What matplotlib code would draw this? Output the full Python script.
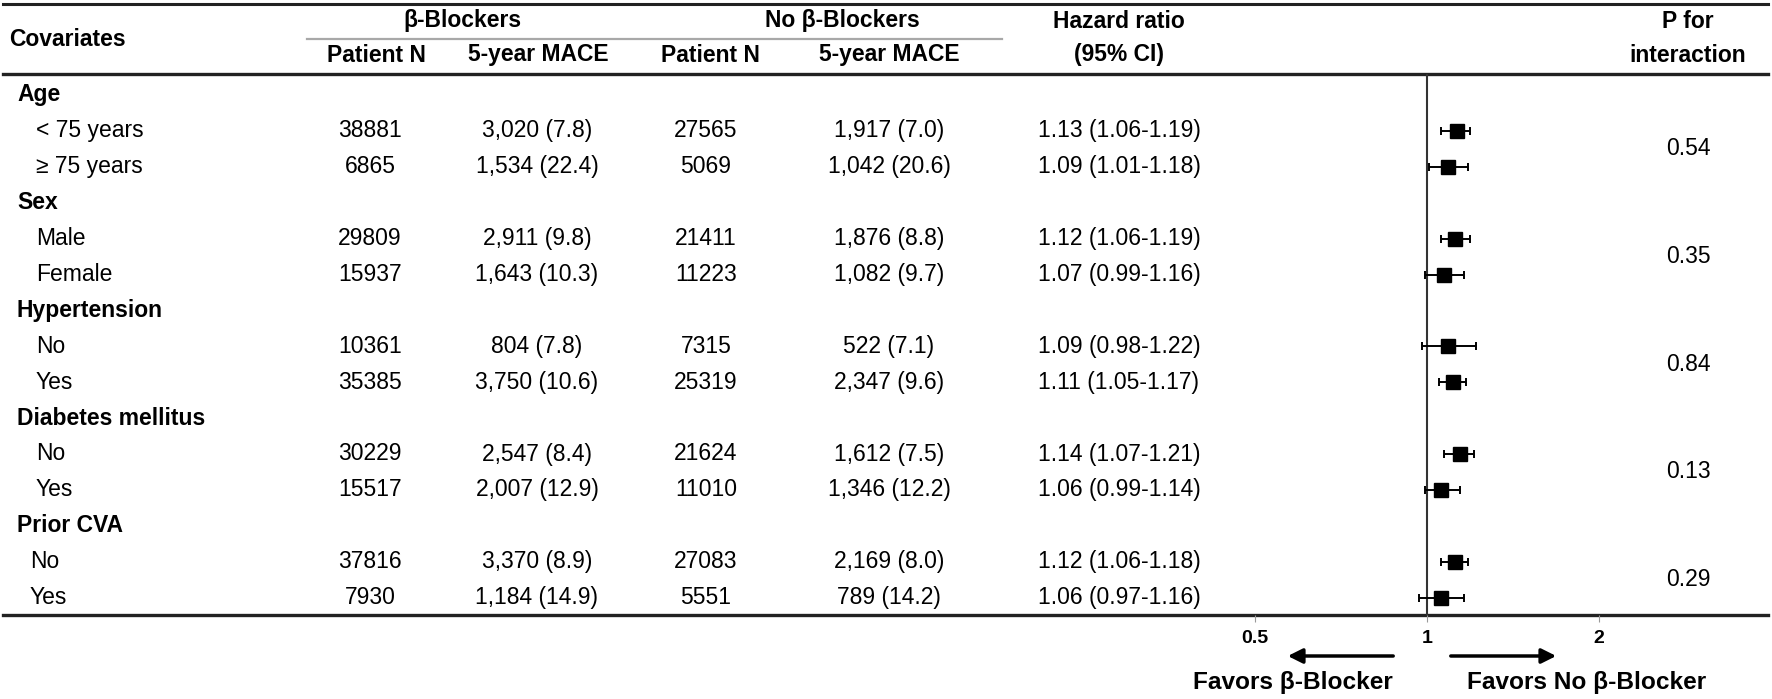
import matplotlib
matplotlib.use('Agg')
from matplotlib import pyplot as plt
import numpy as np

plt.rcParams['font.family'] = ['Liberation Sans', 'DejaVu Sans']

# --- data ---
groups     = ['Age', 'Sex', 'Hypertension', 'Diabetes mellitus', 'Prior CVA']
subgroups  = [['< 75 years', '≥ 75 years'], ['Male', 'Female'], ['No', 'Yes'],
              ['No', 'Yes'], ['No', 'Yes']]
bb_n       = [38881, 6865, 29809, 15937, 10361, 35385, 30229, 15517, 37816, 7930]
bb_events  = [3020, 1534, 2911, 1643, 804, 3750, 2547, 2007, 3370, 1184]
bb_pct     = [7.8, 22.4, 9.8, 10.3, 7.8, 10.6, 8.4, 12.9, 8.9, 14.9]
nobb_n     = [27565, 5069, 21411, 11223, 7315, 25319, 21624, 11010, 27083, 5551]
nobb_events = [1917, 1042, 1876, 1082, 522, 2347, 1612, 1346, 2169, 789]
nobb_pct   = [7.0, 20.6, 8.8, 9.7, 7.1, 9.6, 7.5, 12.2, 8.0, 14.2]
hr         = [1.13, 1.09, 1.12, 1.07, 1.09, 1.11, 1.14, 1.06, 1.12, 1.06]
hr_lo      = [1.06, 1.01, 1.06, 0.99, 0.98, 1.05, 1.07, 0.99, 1.06, 0.97]
hr_hi      = [1.19, 1.18, 1.19, 1.16, 1.22, 1.17, 1.21, 1.14, 1.18, 1.16]
p_int      = ['0.54', '0.35', '0.84', '0.13', '0.29']
x_ticks    = [0.5, 1, 2]

# --- layout (pixels) ---
W, H = 1772, 699
y0, dy = 95, 35.9          # first row, row step
top_y, head_y, bot_y = 4, 74, 615
x_one, px_dbl = 1427, 172  # where HR=1 sits, px per doubling
fl, fr = 1200, 1660        # forest axes extent
FS = 16.5

fig = plt.figure(figsize=(W / 100, H / 100), dpi=100)
ax = fig.add_axes([0, 0, 1, 1])
ax.set_xlim(0, W)
ax.set_ylim(H, 0)
ax.axis('off')

# table rules
ax.plot([3, 1768], [top_y, top_y], color='#222222', lw=2.2)
ax.plot([3, 1768], [head_y, head_y], color='#222222', lw=2.4)
ax.plot([3, 1768], [bot_y, bot_y], color='#222222', lw=2.4)
ax.plot([307, 1002], [39, 39], color='#a8a8a8', lw=1.6)

# header
hb = dict(fontsize=FS, weight='bold', ha='center', va='center')
ax.text(9, 39, 'Covariates', fontsize=FS, weight='bold', ha='left', va='center')
ax.text(462, 21, 'β-Blockers', **hb)
ax.text(842, 21, 'No β-Blockers', **hb)
ax.text(1119, 21, 'Hazard ratio', **hb)
ax.text(1688, 21, 'P for', **hb)
ax.text(376, 55, 'Patient N', **hb)
ax.text(538, 55, '5-year MACE', **hb)
ax.text(710, 55, 'Patient N', **hb)
ax.text(889, 55, '5-year MACE', **hb)
ax.text(1119, 55, '(95% CI)', **hb)
ax.text(1688, 55, 'interaction', **hb)

# body
row_y = []
k = 0
r = 0
for g, name in enumerate(groups):
    ax.text(17, y0 + r * dy, name, fontsize=FS, weight='bold', va='center')
    r += 1
    ind = 30 if g == len(groups) - 1 else 36
    pair = []
    for s in subgroups[g]:
        y = y0 + r * dy
        ax.text(ind, y, s, fontsize=FS, va='center')
        ax.text(370, y, str(bb_n[k]), fontsize=FS, va='center', ha='center')
        ax.text(537, y, f'{bb_events[k]:,} ({bb_pct[k]:.1f})', fontsize=FS, va='center', ha='center')
        ax.text(706, y, str(nobb_n[k]), fontsize=FS, va='center', ha='center')
        ax.text(889, y, f'{nobb_events[k]:,} ({nobb_pct[k]:.1f})', fontsize=FS, va='center', ha='center')
        ax.text(1119, y, f'{hr[k]:.2f} ({hr_lo[k]:.2f}-{hr_hi[k]:.2f})', fontsize=FS, va='center', ha='center')
        row_y.append(r)
        pair.append(y)
        k += 1
        r += 1
    ax.text(1688, np.mean(pair), p_int[g], fontsize=FS, va='center', ha='center')

# forest plot
fx = fig.add_axes([fl / W, (H - bot_y) / H, (fr - fl) / W, (bot_y - head_y) / H])
fx.patch.set_alpha(0)
fx.set_xscale('log', base=2)
fx.set_xlim(2 ** ((fl - x_one) / px_dbl), 2 ** ((fr - x_one) / px_dbl))
fx.set_ylim((bot_y - y0) / dy, (head_y - y0) / dy)
for sp in fx.spines.values():
    sp.set_visible(False)
fx.axvline(1, color='#333333', lw=1.5)
hr_a = np.array(hr)
err = [hr_a - np.array(hr_lo), np.array(hr_hi) - hr_a]
fx.errorbar(hr, row_y, xerr=err, fmt='none', ecolor='black', elinewidth=1.4,
            capsize=3, capthick=1.4)
fx.plot(hr, row_y, 's', color='black', ms=10)
fx.set_xticks(x_ticks)
fx.set_xticklabels(['0.5', '1', '2'], fontsize=14, weight='bold')
fx.minorticks_off()
fx.tick_params(axis='x', direction='out', length=5, color='#999999', pad=6)
fx.set_yticks([])

# favour arrows
ax.annotate('', xy=(1285, 656), xytext=(1396, 656),
            arrowprops=dict(arrowstyle='-|>', lw=2.5, color='black', mutation_scale=22))
ax.annotate('', xy=(1559, 656), xytext=(1448, 656),
            arrowprops=dict(arrowstyle='-|>', lw=2.5, color='black', mutation_scale=22))
ax.text(1293, 683, 'Favors β-Blocker', fontsize=17.6, weight='bold', ha='center', va='center')
ax.text(1587, 683, 'Favors No β-Blocker', fontsize=17.6, weight='bold', ha='center', va='center')

plt.savefig('out.png', dpi=100)
